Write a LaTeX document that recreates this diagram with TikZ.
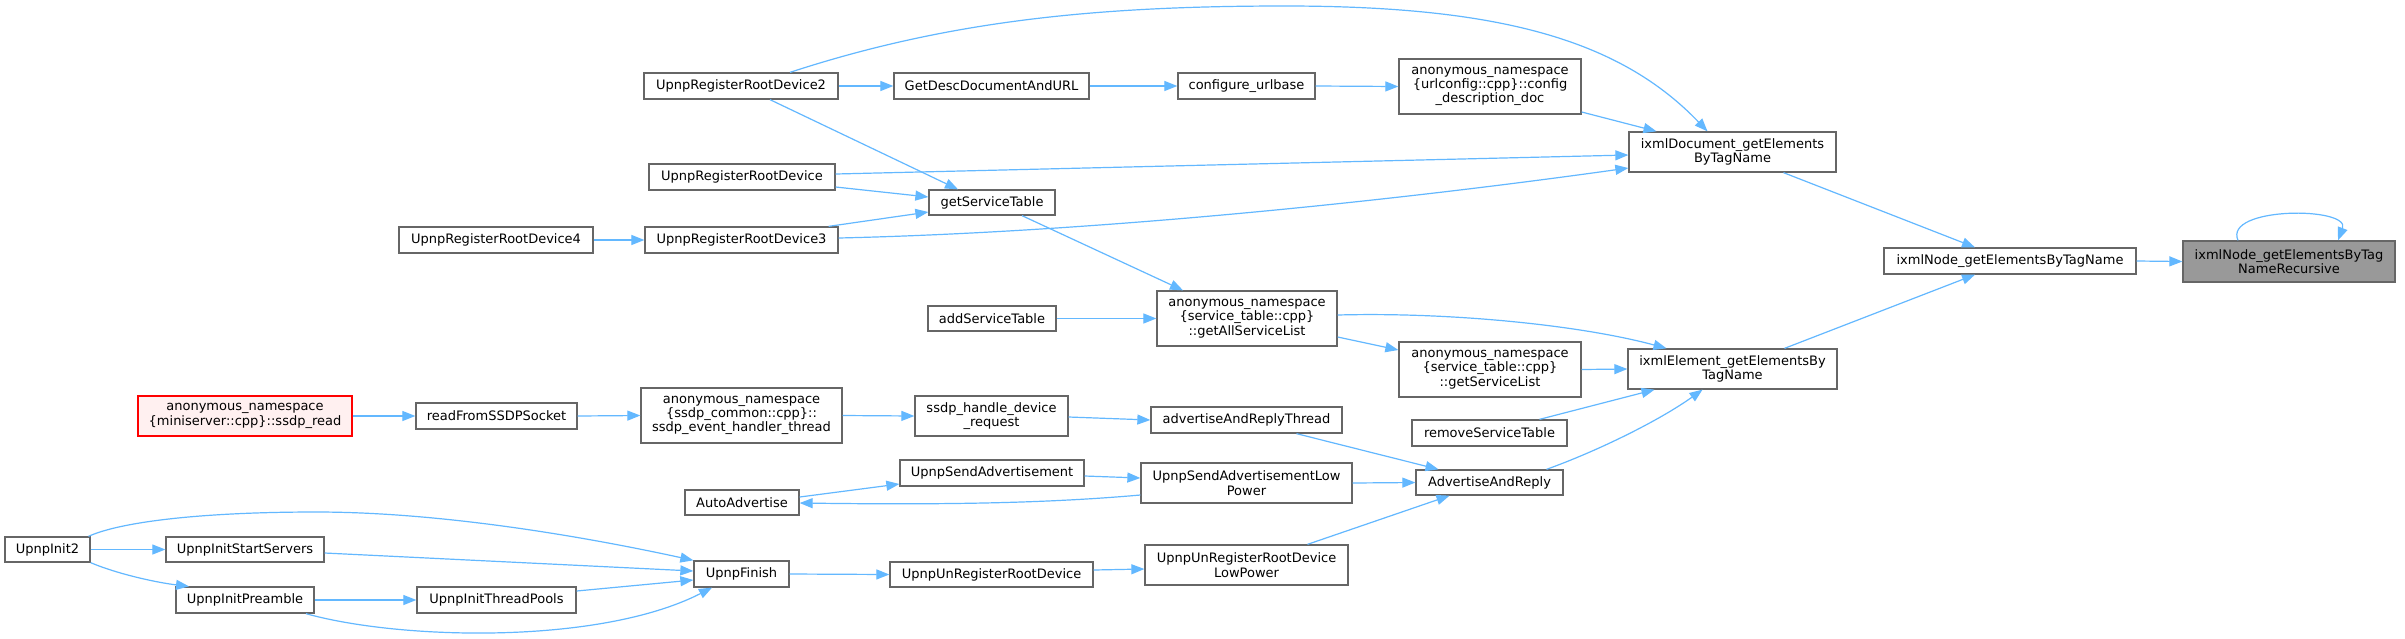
\documentclass[tikz,border=0pt]{standalone}
\usepackage{fontspec}
\setmainfont{DejaVu Sans}
\usetikzlibrary{arrows.meta}
\definecolor{edgecol}{HTML}{63B8FF}
\definecolor{bordercol}{HTML}{666666}
\definecolor{hlfill}{HTML}{999999}
\definecolor{redborder}{HTML}{FF0000}
\definecolor{redfill}{HTML}{FFF0F0}
\begin{document}
\begin{tikzpicture}[x=1pt,y=-1pt,
  box/.style={draw=bordercol, line width=1.3pt, fill=white, inner sep=0pt, align=center,
    font=\fontsize{13}{14.3}\selectfont, minimum height=26pt},
  hlbox/.style={box, fill=hlfill},
  redbox/.style={box, draw=redborder, fill=redfill},
  edge/.style={draw=edgecol, line width=1.2pt, -{Triangle[length=13pt,width=10pt]}}]
\fill[white] (0,0) rectangle (2405,638);
\useasboundingbox (0,0) rectangle (2405,638);
% nodes
\node[box, minimum width=194pt] (rd2) at (741,86) {UpnpRegisterRootDevice2};
\node[box, minimum width=195pt] (gdd) at (991.5,86) {GetDescDocumentAndURL};
\node[box, minimum width=137pt] (cub) at (1246.5,86) {configure\_urlbase};
\node[box, minimum width=182pt, minimum height=55pt] (cdd) at (1490,86.5) {anonymous\_namespace\\\{urlconfig::cpp\}::config\\\_description\_doc};
\node[box, minimum width=207pt, minimum height=40pt] (xdoc) at (1732.5,152) {ixmlDocument\_getElements\\ByTagName};
\node[box, minimum width=252pt] (xnode) at (2010,261) {ixmlNode\_getElementsByTagName};
\node[hlbox, minimum width=212pt, minimum height=41pt] (xrec) at (2289,261.5) {ixmlNode\_getElementsByTag\\NameRecursive};
\node[box, minimum width=186pt] (rd) at (742,177) {UpnpRegisterRootDevice};
\node[box, minimum width=126pt, minimum height=25pt] (gst) at (992,202.5) {getServiceTable};
\node[box, minimum width=194pt] (rd4) at (496,240) {UpnpRegisterRootDevice4};
\node[box, minimum width=193pt] (rd3) at (741.5,240) {UpnpRegisterRootDevice3};
\node[box, minimum width=128pt, minimum height=25pt] (ast) at (992,318.5) {addServiceTable};
\node[box, minimum width=180pt, minimum height=55pt] (gasl) at (1247,318.5) {anonymous\_namespace\\\{service\_table::cpp\}\\::getAllServiceList};
\node[box, minimum width=182pt, minimum height=55pt] (gsl) at (1490,369.5) {anonymous\_namespace\\\{service\_table::cpp\}\\::getServiceList};
\node[box, minimum width=209pt, minimum height=40pt] (xel) at (1732.5,369) {ixmlElement\_getElementsBy\\TagName};
\node[redbox, minimum width=214pt, minimum height=40pt] (sread) at (245,416) {anonymous\_namespace\\\{miniserver::cpp\}::ssdp\_read};
\node[box, minimum width=161pt] (rfs) at (496.5,416) {readFromSSDPSocket};
\node[box, minimum width=201pt, minimum height=55pt] (seht) at (741.5,415.5) {anonymous\_namespace\\\{ssdp\_common::cpp\}::\\ssdp\_event\_handler\_thread};
\node[box, minimum width=153pt, minimum height=40pt] (shdr) at (991.5,416) {ssdp\_handle\_device\\\_request};
\node[box, minimum width=191pt] (aart) at (1246.5,420) {advertiseAndReplyThread};
\node[box, minimum width=155pt] (rst) at (1489.5,433) {removeServiceTable};
\node[box, minimum width=184pt] (usa) at (992,473) {UpnpSendAdvertisement};
\node[box, minimum width=114pt, minimum height=25pt] (aadv) at (742,502.5) {AutoAdvertise};
\node[box, minimum width=211pt, minimum height=40pt] (usalp) at (1246.5,483) {UpnpSendAdvertisementLow\\Power};
\node[box, minimum width=147pt, minimum height=25pt] (aar) at (1489.5,482.5) {AdvertiseAndReply};
\node[box, minimum width=85pt, minimum height=25pt] (init2) at (47.5,549.5) {UpnpInit2};
\node[box, minimum width=158pt, minimum height=25pt] (iss) at (245,549.5) {UpnpInitStartServers};
\node[box, minimum width=95pt] (fin) at (741.5,574) {UpnpFinish};
\node[box, minimum width=138pt] (ipre) at (245,600) {UpnpInitPreamble};
\node[box, minimum width=159pt] (itp) at (496.5,600) {UpnpInitThreadPools};
\node[box, minimum width=203pt, minimum height=25pt] (unr) at (991.5,574.5) {UpnpUnRegisterRootDevice};
\node[box, minimum width=203pt, minimum height=40pt] (unrlp) at (1246.5,565) {UpnpUnRegisterRootDevice\\LowPower};
% edges
\draw[edge] (xnode.east) -- (xrec.west);
\draw[edge] ([xshift=-51pt]xrec.north) .. controls ([xshift=-66pt,yshift=34pt]xrec.north) and ([xshift=62pt,yshift=34pt]xrec.north) .. ([xshift=49pt]xrec.north);
\draw[edge] ([xshift=51pt]xdoc.south) -- ([xshift=-35pt]xnode.north);
\draw[edge] ([xshift=52pt]xel.north) -- ([xshift=-35pt]xnode.south);
\draw[edge] ([yshift=-25.5pt]cdd.east) -- ([xshift=-76pt]xdoc.north);
\draw[edge] ([xshift=49pt]rd2.north) .. controls (950,20) and (1100,6) .. (1285,6) .. controls (1500,6) and (1620,40) .. ([xshift=-25pt]xdoc.north);
\draw[edge] ([yshift=3pt]rd.east) -- ([yshift=-3pt]xdoc.west);
\draw[edge] ([yshift=2pt]rd3.east) .. controls (1100,232) and (1400,200) .. ([yshift=-16pt]xdoc.west);
\draw[edge] (rd2.east) -- (gdd.west);
\draw[edge] (gdd.east) -- (cub.west);
\draw[edge] (cub.east) -- (cdd.west);
\draw[edge] ([xshift=29pt]rd2.south) -- ([xshift=-34pt]gst.north);
\draw[edge] ([yshift=-10pt]rd.east) -- ([yshift=5.5pt]gst.west);
\draw[edge] ([xshift=-10pt]rd3.north east) -- ([yshift=-9.5pt]gst.west);
\draw[edge] (rd4.east) -- (rd3.west);
\draw[edge] ([xshift=30pt]gst.south) -- ([xshift=-64pt]gasl.north);
\draw[edge] (ast.east) -- (gasl.west);
\draw[edge] ([yshift=3.5pt]gasl.east) .. controls (1450,312) and (1580,325) .. ([xshift=-66pt]xel.north);
\draw[edge] ([yshift=-18.5pt]gasl.east) -- ([yshift=19.5pt]gsl.west);
\draw[edge] (gsl.east) -- (xel.west);
\draw[edge] ([xshift=50pt]rst.north) -- ([xshift=-78pt]xel.south);
\draw[edge] ([xshift=57pt]aar.north) .. controls (1600,450) and (1660,420) .. ([xshift=-30pt]xel.south);
\draw[edge] (sread.east) -- (rfs.west);
\draw[edge] (rfs.east) -- (seht.west);
\draw[edge] (seht.east) -- (shdr.west);
\draw[edge] ([yshift=-1pt]shdr.east) -- (aart.west);
\draw[edge] ([xshift=50pt]aart.south) -- ([xshift=-51pt]aar.north);
\draw[edge] ([yshift=5.5pt]aadv.east) -- ([yshift=-11pt]usa.west);
\draw[edge] ([yshift=-3pt]usa.east) -- ([yshift=5pt]usalp.west);
\draw[edge] ([yshift=-12pt]usalp.west) .. controls (1050,503) and (950,505) .. ([yshift=-0.5pt]aadv.east);
\draw[edge] (usalp.east) -- (aar.west);
\draw[edge] ([xshift=61pt]unrlp.north) -- ([xshift=-40pt]aar.south);
\draw[edge] ([yshift=4.5pt]unr.east) -- ([yshift=-4pt]unrlp.west);
\draw[edge] (fin.east) -- (unr.west);
\draw[edge] ([xshift=41pt]init2.north) .. controls (120,522) and (200,512) .. (316,512) .. controls (450,512) and (600,540) .. (fin.north west);
\draw[edge] (init2.east) -- (iss.west);
\draw[edge] (init2.south east) .. controls (120,575) and (160,583) .. ([xshift=-56pt]ipre.north);
\draw[edge] ([yshift=-3.5pt]iss.east) -- ([yshift=3pt]fin.west);
\draw[edge] (ipre.east) -- (itp.west);
\draw[edge] ([yshift=9pt]itp.east) -- ([yshift=-6pt]fin.west);
\draw[edge] ([xshift=61pt]ipre.south) .. controls (400,640) and (600,645) .. ([xshift=-29.5pt]fin.south);
\end{tikzpicture}
\end{document}
